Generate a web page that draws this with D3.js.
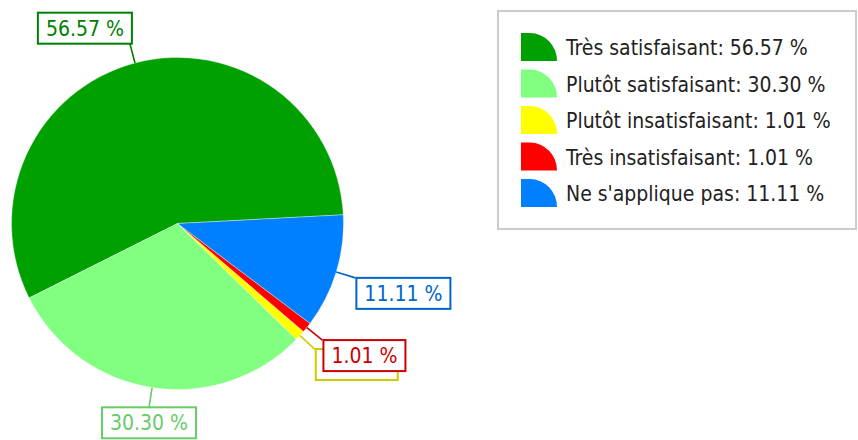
<!DOCTYPE html>
<html><head><meta charset="utf-8">
<script src="https://cdn.jsdelivr.net/npm/d3@7"></script>
<style>
html,body{margin:0;padding:0;background:#fff;}
svg{display:block;font-family:"DejaVu Sans Condensed","DejaVu Sans",sans-serif;}
</style></head>
<body><svg id="chart" width="858" height="440"></svg>
<script>
const categories = ["Très satisfaisant", "Plutôt satisfaisant", "Plutôt insatisfaisant", "Très insatisfaisant", "Ne s'applique pas"];
const values = [56.57, 30.30, 1.01, 1.01, 11.11];
const colors = ["#00a000", "#80ff80", "#ffff00", "#ff0000", "#0080ff"];

const W = 858, H = 440;
const cx = 177.5, cy = 223.5, R = 166;
const startDeg = 87;
const svg = d3.select("#chart");
const fmt = v => d3.format(".2f")(v) + " %";
const dark = c => { const r = d3.rgb(c); return d3.rgb(r.r * 0.8, r.g * 0.8, r.b * 0.8).formatHex(); };

const data = categories.map((c, i) => ({ name: c, value: values[i], color: colors[i] }));
const a0 = startDeg * Math.PI / 180;
const pie = d3.pie().sort(null).value(d => d.value).startAngle(a0).endAngle(a0 - 2 * Math.PI);
const arcs = pie(data);
const arc = d3.arc().innerRadius(0).outerRadius(R);

const g = svg.append("g").attr("transform", `translate(${cx},${cy})`);
g.selectAll("path.slice").data(arcs).join("path")
  .attr("class", "slice")
  .attr("d", arc)
  .attr("fill", d => d.data.color)
  .attr("stroke", "rgba(255,255,255,0.6)")
  .attr("stroke-width", 0.6);

// labels
const lg = g.append("g");
arcs.forEach(d => {
  const mid = (d.startAngle + d.endAngle) / 2;
  const s = Math.sin(mid), c = Math.cos(mid);
  const p0 = [R * s, -R * c];
  const p1 = [(R + 20) * s, -(R + 20) * c];
  const col = dark(d.data.color);
  const grp = lg.append("g");
  grp.append("line")
    .attr("x1", p0[0]).attr("y1", p0[1]).attr("x2", p1[0]).attr("y2", p1[1])
    .attr("stroke", col).attr("stroke-width", 1.6);
  const txt = grp.append("text").text(fmt(d.data.value))
    .attr("font-size", 21).attr("fill", col);
  const bb = txt.node().getBBox();
  const bw = bb.width + 16, bh = 31;
  let bx;
  if (Math.abs(s) < 0.2) bx = p1[0] - bw / 2;
  else if (s < 0) bx = p1[0] - bw + 2;
  else bx = p1[0] + 1;
  const by = c > 0 ? p1[1] - bh : p1[1];
  grp.insert("rect", "text")
    .attr("x", bx).attr("y", by).attr("width", bw).attr("height", bh)
    .attr("fill", "#fff").attr("stroke", col).attr("stroke-width", 2);
  txt.attr("x", bx + bw / 2).attr("y", by + bh / 2 + 7.5).attr("text-anchor", "middle");
});

// legend
const leg = svg.append("g");
leg.append("rect").attr("x", 498).attr("y", 11).attr("width", 358).attr("height", 218)
  .attr("fill", "#fff").attr("stroke", "#cccccc").attr("stroke-width", 2);
const rowY = d3.scaleLinear().domain([0, 4]).range([33, 179]);
data.forEach((d, i) => {
  const y = rowY(i);
  leg.append("path")
    .attr("d", `M521,${y + 28} V${y} H530 A27,28 0 0 1 557,${y + 28} Z`)
    .attr("fill", d.color);
  leg.append("text").attr("x", 566).attr("y", y + 22)
    .attr("font-size", 21).attr("fill", "#222")
    .text(`${d.name}: ${fmt(d.value)}`);
});
</script></body></html>
